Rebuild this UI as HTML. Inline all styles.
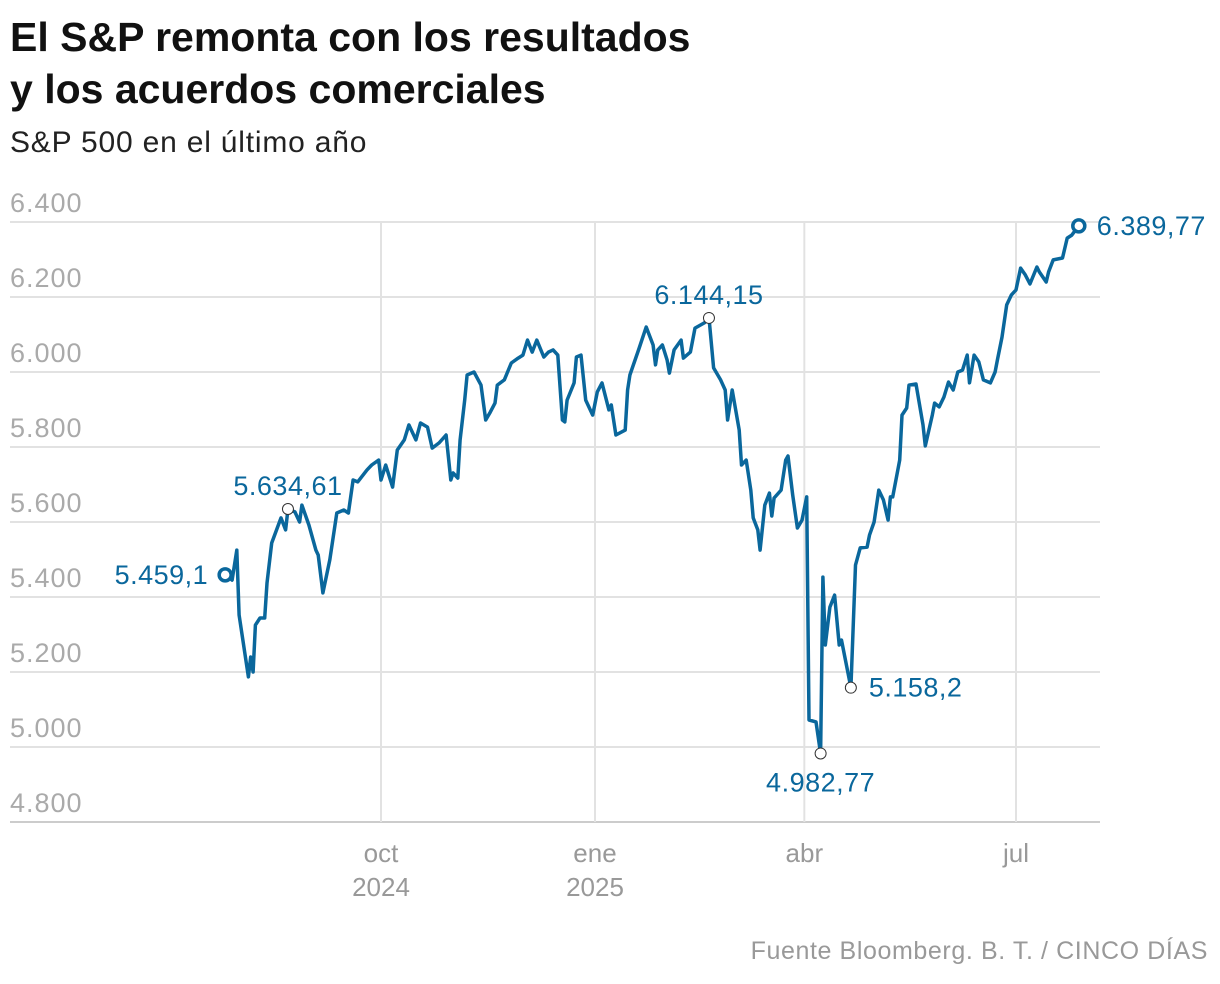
<!DOCTYPE html>
<html><head><meta charset="utf-8">
<style>
body{margin:0;background:#fff;width:1220px;height:984px;overflow:hidden;font-family:"Liberation Sans",sans-serif}
.t{position:absolute;left:10px;font-weight:bold;font-size:41px;color:#111;letter-spacing:0px}
</style></head><body>
<div class="t" style="top:14px">El S&amp;P remonta con los resultados</div>
<div class="t" style="top:66px">y los acuerdos comerciales</div>
<div style="position:absolute;left:10px;top:126px;font-size:30px;letter-spacing:0.8px;color:#222">S&amp;P 500 en el último año</div>
<svg id="c" width="1220" height="984" style="position:absolute;left:0;top:0"></svg>
<div style="position:absolute;right:12px;top:937px;font-size:25px;letter-spacing:0.6px;color:#999">Fuente Bloomberg. B. T. / CINCO DÍAS</div>
<script>
const days=[-67,-64,-62,-61,-57,-56,-55,-54,-52,-50,-49,-47,-43,-41,-40,-37,-35,-34,-31,-28,-27,-25,-22,-19,-16,-14,-12,-10,-6,-4,-1,0,2,5,7,10,12,15,17,20,22,25,28,30,31,33,34,36,37,40,43,45,47,49,50,53,56,59,61,63,65,67,70,72,74,76,78,79,80,83,84,86,88,91,93,95,98,99,101,105,106,107,111,114,117,118,119,121,123,124,126,129,130,133,135,139,141,143,146,148,149,151,154,155,157,159,160,162,163,165,167,168,169,172,174,175,177,179,181,183,184,187,189,190,191,193,195,197,198,202,204,206,209,210,212,214,216,218,219,220,223,224,226,227,230,233,234,237,238,240,242,244,246,248,250,252,253,255,257,259,262,264,265,267,269,271,273,275,277,279,282,283,286,287,289,293,295,297,300];
const values=[5459.1,5445,5525,5352,5187,5240,5200,5325,5344,5344,5437,5544,5611,5579,5634.61,5627,5600,5645,5592,5525,5512,5411,5499,5624,5632,5624,5712,5707,5739,5752,5765,5712,5752,5693,5792,5819,5859,5819,5864,5853,5797,5811,5832,5712,5731,5717,5819,5925,5992,6000,5965,5872,5893,5917,5965,5979,6024,6037,6045,6085,6053,6085,6040,6053,6059,6045,5872,5867,5925,5971,6040,6045,5925,5885,5947,5971,5899,5912,5832,5845,5952,5992,6064,6120,6072,6019,6059,6072,6032,5997,6059,6085,6037,6053,6117,6131,6144.15,6011,5979,5952,5872,5952,5845,5752,5765,5685,5611,5579,5525,5645,5677,5616,5664,5685,5765,5776,5672,5584,5605,5667,5072,5067,4982.77,5453,5272,5373,5405,5272,5285,5158.2,5485,5531,5533,5565,5600,5685,5659,5605,5667,5667,5765,5885,5904,5965,5968,5859,5803,5885,5917,5907,5933,5973,5952,6000,6005,6045,5971,6045,6027,5979,5971,6000,6032,6093,6179,6205,6219,6277,6259,6235,6280,6267,6240,6267,6299,6304,6357,6365,6389.77];
const yTicks=[4800,5000,5200,5400,5600,5800,6000,6200,6400];
const yTickLabels=["4.800","5.000","5.200","5.400","5.600","5.800","6.000","6.200","6.400"];
const monthDays=[0,92,182,273];
const monthLabels=[["oct","2024"],["ene","2025"],["abr",""],["jul",""]];
const annotValues=[5459.1,5634.61,6144.15,4982.77,5158.2,6389.77];
const annotLabels=["5.459,1","5.634,61","6.144,15","4.982,77","5.158,2","6.389,77"];
const annotPos=["left","top","top","bottom","right","right"];
const X=d=>381+d*2.326, Y=v=>822-(v-4800)*75/200;
const svg=document.getElementById('c'),NS='http://www.w3.org/2000/svg';
function mk(t,a,txt){const e=document.createElementNS(NS,t);for(const k in a)e.setAttribute(k,a[k]);if(txt!==undefined)e.textContent=txt;svg.appendChild(e);return e;}
yTicks.forEach((v,i)=>{
 const g=mk('line',{x1:10,x2:1100,y1:Y(v),y2:Y(v),stroke:i==0?'#ccc':'#e2e2e2','stroke-width':2});
 
 const t=mk('text',{x:10,y:Y(v)-10,'font-size':27,'letter-spacing':1,fill:'#aaa'},yTickLabels[i]);
 
});
monthDays.forEach((d,i)=>{
 const l=mk('line',{x1:X(d),x2:X(d),y1:222,y2:822,stroke:'#e2e2e2','stroke-width':2});
 
 const t=mk('text',{x:X(d),y:862,'font-size':26,fill:'#999','text-anchor':'middle'},monthLabels[i][0]);
 
 if(monthLabels[i][1]){const t2=mk('text',{x:X(d),y:896,'font-size':26,fill:'#999','text-anchor':'middle'},monthLabels[i][1]);
 }
});
const p=mk('path',{d:days.map((d,i)=>(i?'L':'M')+X(d).toFixed(1)+','+Y(values[i]).toFixed(1)).join(''),fill:'none',stroke:'#0a679c','stroke-width':3.5,'stroke-linejoin':'round'});

annotValues.forEach((av,k)=>{
 const i=values.indexOf(av);
 const big=(k==0||k==annotValues.length-1);
 const x=X(days[i]),y=Y(values[i]);
 const c=mk('circle',{cx:x,cy:y,r:big?6:5.5,fill:'#fff',stroke:big?'#0a679c':'#333','stroke-width':big?3.5:1});
 
 let tx=x,ty=y,anc='middle';const pos=annotPos[k];
 if(pos=='left'){tx=x-17;ty=y+9;anc='end';}
 if(pos=='right'){tx=x+18;ty=y+9;anc='start';}
 if(pos=='top'){ty=y-14;}
 if(pos=='bottom'){ty=y+38;}
 const t=mk('text',{x:tx,y:ty,'font-size':27,'letter-spacing':0.5,fill:'#0a679c','text-anchor':anc},annotLabels[k]);
 
});
</script>
</body></html>
